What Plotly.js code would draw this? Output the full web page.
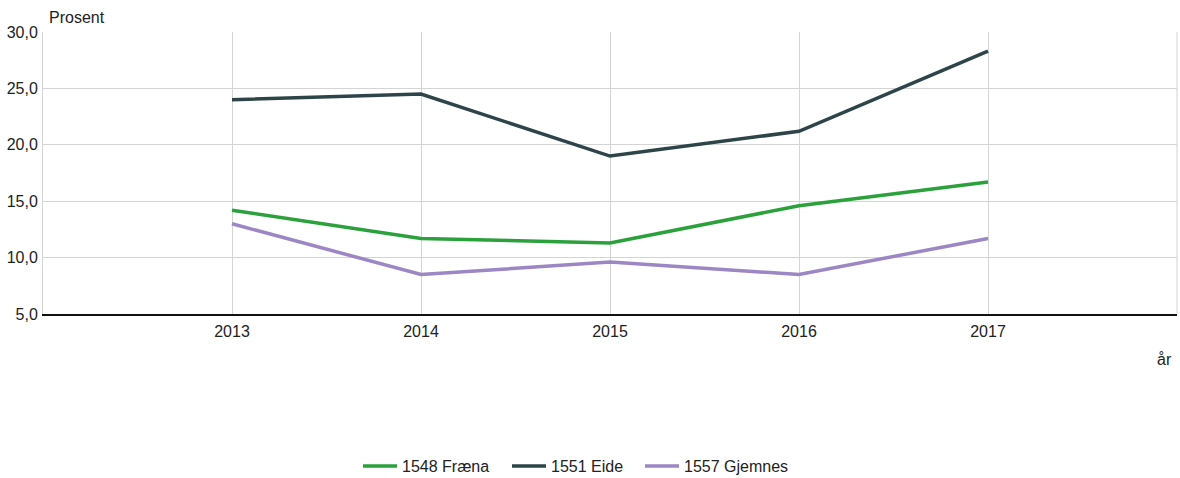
<!DOCTYPE html>
<html>
<head>
<meta charset="utf-8">
<script src="https://cdn.plot.ly/plotly-3.0.1.min.js"></script>
<style>html,body{margin:0;padding:0;background:#fff;}#chart{width:1180px;height:478px;}</style>
</head>
<body>
<div id="chart"></div>
<script>
const years = [2013, 2014, 2015, 2016, 2017];
const seriesNames = ["1548 Fræna", "1551 Eide", "1557 Gjemnes"];
const fraena = [14.2, 11.7, 11.3, 14.6, 16.7];
const eide = [24.0, 24.5, 19.0, 21.2, 28.3];
const gjemnes = [13.0, 8.5, 9.6, 8.5, 11.7];
const colors = ["#2ba13b", "#2d4548", "#9c86c4"];
const yTicks = [5, 10, 15, 20, 25, 30];
const xGrid = [2012, 2013, 2014, 2015, 2016, 2017, 2018];
const xTickText = ["", "2013", "2014", "2015", "2016", "2017", ""];

const W = 1180;
const legendIds = ["legend", "legend2", "legend3"];
const legendLeft = [358, 507, 640];

const values = [fraena, eide, gjemnes];
const traces = values.map((v, i) => ({
  x: years, y: v, name: seriesNames[i], type: "scatter", mode: "lines",
  legend: legendIds[i],
  line: {color: colors[i], width: 3.5}
}));

const font = {family: "Liberation Sans, Arial, sans-serif", size: 16, color: "#222"};
const layout = {
  width: W, height: 478,
  margin: {l: 43, r: 3, t: 32, b: 164},
  paper_bgcolor: "#fff", plot_bgcolor: "#fff",
  font: font,
  separators: ", ",
  showlegend: true,
  xaxis: {range: [2012, 2018], tickvals: xGrid, ticktext: xTickText, showgrid: true,
          gridcolor: "#d4d4d4", gridwidth: 1, zeroline: false, showline: true,
          linecolor: "#111", linewidth: 2, ticks: "", ticklabelstandoff: 2, fixedrange: true},
  yaxis: {range: [5, 30], tickvals: yTicks, tickformat: ".1f", showgrid: true,
          gridcolor: "#d4d4d4", gridwidth: 1, zeroline: false, showline: true,
          linecolor: "#d4d4d4", linewidth: 1, ticks: "", ticklabelstandoff: 1, fixedrange: true},
  shapes: [{type: "line", xref: "paper", yref: "paper", x0: 1, x1: 1, y0: 0, y1: 1,
            line: {color: "#d4d4d4", width: 1}}],
  annotations: [
    {text: "Prosent", xref: "paper", yref: "paper", x: 0.0035, y: 1.05, xanchor: "left",
     yanchor: "middle", showarrow: false, font: font},
    {text: "år", xref: "paper", yref: "paper", x: 0.9975, y: -0.163, xanchor: "right",
     yanchor: "middle", showarrow: false, font: font}
  ]
};
legendIds.forEach((id, i) => {
  layout[id] = {orientation: "h", xref: "container", x: legendLeft[i] / W, xanchor: "left",
                yref: "container", y: 0.025, yanchor: "middle", itemwidth: 34,
                font: {family: font.family, size: 16, color: "#222"}};
});
Plotly.newPlot("chart", traces, layout, {displayModeBar: false, staticPlot: true});
</script>
</body>
</html>
